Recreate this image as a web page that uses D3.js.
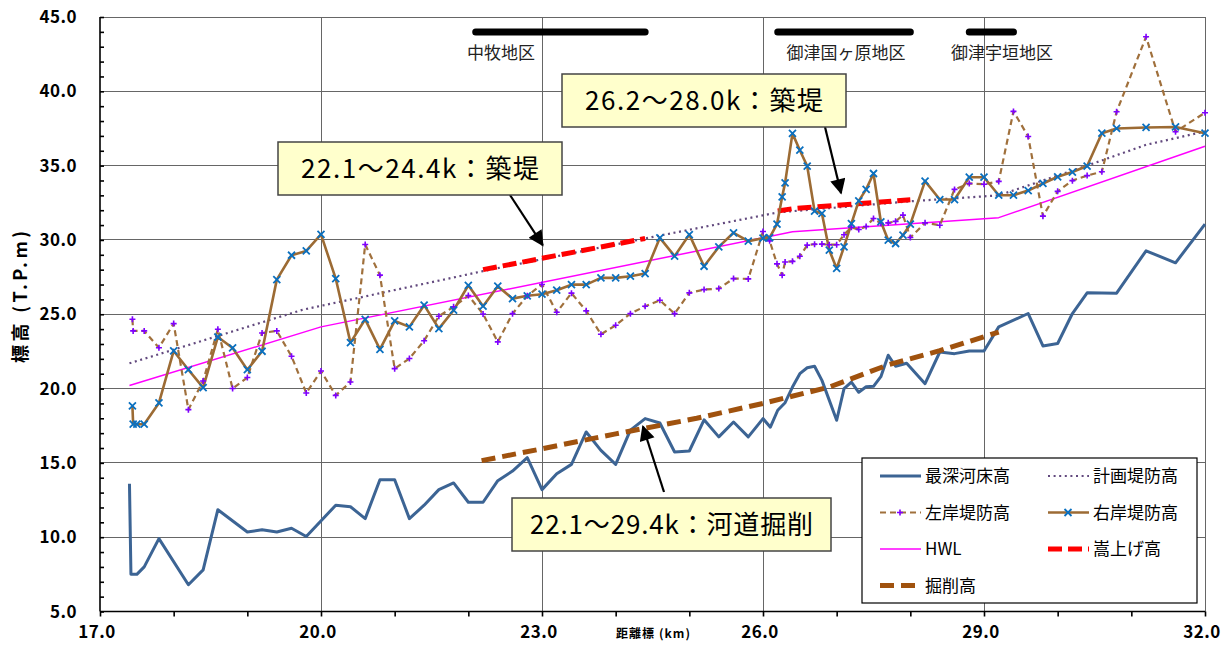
<!DOCTYPE html>
<html>
<head>
<meta charset="utf-8">
<script src="https://cdn.jsdelivr.net/npm/d3@7"></script>
<style>
  body { margin: 0; background: #fff; }
  svg { display: block; font-family: "Noto Sans CJK JP", "Noto Sans", sans-serif; }
</style>
</head>
<body>
<div id="chart"></div>
<script>
// ---- data (km, T.P.m) ----
var riverbed = [[17.4,13.6],[17.42,7.5],[17.5,7.5],[17.6,8.0],[17.8,9.9],[18.2,6.8],[18.4,7.8],[18.6,11.85],
  [19.0,10.35],[19.2,10.5],[19.4,10.35],[19.6,10.6],[19.8,10.05],[20.2,12.15],[20.4,12.05],[20.6,11.25],
  [20.8,13.87],[21.0,13.87],[21.2,11.25],[21.4,12.15],[21.6,13.2],[21.8,13.65],[22.0,12.35],[22.2,12.35],
  [22.4,13.8],[22.6,14.45],[22.8,15.35],[23.0,13.2],[23.2,14.27],[23.4,14.9],[23.6,17.08],[23.8,15.84],
  [24.0,14.9],[24.2,17.2],[24.4,17.98],[24.6,17.68],[24.8,15.73],[25.0,15.8],[25.2,17.9],[25.4,16.75],
  [25.6,17.75],[25.8,16.75],[26.0,17.98],[26.1,17.4],[26.2,18.54],[26.3,19.05],[26.4,20.1],[26.5,21.0],
  [26.6,21.4],[26.7,21.5],[26.8,20.55],[27.0,17.87],[27.1,20.0],[27.2,20.44],[27.3,19.75],[27.4,20.12],
  [27.5,20.15],[27.6,20.8],[27.7,22.24],[27.8,21.5],[27.95,21.7],[28.2,20.33],[28.4,22.46],[28.6,22.35],
  [28.8,22.53],[29.0,22.53],[29.2,24.15],[29.6,25.05],[29.8,22.87],[30.0,23.03],[30.2,25.05],[30.4,26.44],
  [30.8,26.42],[31.2,29.27],[31.6,28.46],[32.0,31.06]];

var planLevee = [[17.4,21.7],[19.75,25.3],[22.2,27.9],[24.4,30.1],[26.2,31.85],[28.0,32.6],[29.2,33.0],
  [30.4,35.0],[31.2,36.4],[32.0,37.3]];

var leftBank = [[17.44,24.66],[17.45,23.88],[17.6,23.88],[17.8,22.75],[18.0,24.37],[18.2,18.58],[18.4,20.51],
  [18.6,23.99],[18.8,20.0],[19.0,20.74],[19.2,23.74],[19.4,23.88],[19.6,22.17],[19.8,19.7],[20.0,21.18],
  [20.2,19.54],[20.4,20.44],[20.6,29.69],[20.8,27.63],[21.0,21.34],[21.2,22.02],[21.4,23.22],[21.6,24.87],
  [21.8,25.5],[22.0,26.26],[22.2,25.02],[22.4,23.14],[22.6,25.04],[22.8,26.24],[23.0,27.0],[23.2,25.13],
  [23.4,26.42],[23.6,25.23],[23.8,23.65],[24.0,24.26],[24.2,25.04],[24.4,25.54],[24.6,25.94],[24.8,25.04],
  [25.0,26.44],[25.2,26.66],[25.4,26.73],[25.6,27.4],[25.8,27.38],[26.0,30.57],[26.09,29.94],[26.19,28.39],
  [26.26,27.63],[26.3,28.52],[26.4,28.56],[26.5,28.9],[26.6,29.65],[26.7,29.71],[26.8,29.72],[26.9,29.68],
  [27.0,29.68],[27.1,30.35],[27.2,30.85],[27.3,30.7],[27.4,30.9],[27.5,31.44],[27.6,31.12],[27.7,31.15],
  [27.8,31.25],[27.9,31.67],[28.0,30.16],[28.2,31.15],[28.4,30.99],[28.6,33.4],[28.8,33.8],[29.0,33.75],
  [29.2,33.94],[29.4,38.65],[29.6,36.96],[29.8,31.6],[30.0,33.27],[30.2,33.99],[30.4,34.33],[30.6,34.59],
  [30.8,38.62],[31.2,43.67],[31.6,37.28],[32.0,38.56]];

var rightBank = [[17.44,18.83],[17.45,17.6],[17.5,17.6],[17.6,17.6],[17.8,19.03],[18.0,22.53],[18.2,21.27],
  [18.4,20.06],[18.6,23.47],[18.8,22.73],[19.0,21.27],[19.2,22.51],[19.4,27.33],[19.6,28.97],[19.8,29.26],
  [20.0,30.37],[20.2,27.4],[20.4,23.09],[20.6,24.66],[20.8,22.64],[21.0,24.55],[21.2,24.15],[21.4,25.61],
  [21.6,24.03],[21.8,25.27],[22.0,26.95],[22.2,25.54],[22.4,26.89],[22.6,26.05],[22.8,26.24],[23.0,26.35],
  [23.2,26.62],[23.4,26.99],[23.6,26.99],[23.8,27.45],[24.0,27.45],[24.2,27.56],[24.4,27.74],[24.6,30.14],
  [24.8,28.91],[25.0,30.36],[25.2,28.23],[25.4,29.53],[25.6,30.48],[25.8,29.92],[26.0,30.12],[26.09,30.16],
  [26.19,31.06],[26.26,32.9],[26.3,33.84],[26.4,37.17],[26.5,36.04],[26.6,34.97],[26.7,31.94],[26.8,31.78],
  [26.9,29.31],[27.0,28.08],[27.1,29.53],[27.2,31.1],[27.3,32.63],[27.4,33.4],[27.5,34.47],[27.6,31.22],
  [27.7,29.98],[27.8,29.76],[27.9,30.32],[28.0,31.06],[28.2,33.96],[28.4,32.72],[28.6,32.72],[28.8,34.22],
  [29.0,34.22],[29.2,33.01],[29.4,33.01],[29.6,33.32],[29.8,33.8],[30.0,34.25],[30.2,34.57],[30.4,34.97],
  [30.6,37.18],[30.8,37.5],[31.2,37.57],[31.6,37.6],[32.0,37.18]];

var hwl = [[17.4,20.2],[20.0,24.15],[26.4,30.55],[29.2,31.5],[32.0,36.3]];

var raiseSegments = [
  [[22.2,28.0],[24.4,30.1]],
  [[26.2,31.95],[26.4,32.1],[28.0,32.7]]
];

var excavation = [[22.18,15.15],[23.0,15.95],[24.0,16.95],[25.1,18.0],[26.0,19.0],[26.9,20.1],
  [27.7,21.6],[28.4,22.55],[29.2,23.8]];

var districts = [
  {name: "中牧地区", from: 22.1, to: 24.4},
  {name: "御津国ヶ原地区", from: 26.2, to: 28.0},
  {name: "御津宇垣地区", from: 28.8, to: 29.4}
];

var callouts = [
  {text: "22.1～24.4k：築堤", tip: [23.01, 29.65]},
  {text: "26.2～28.0k：築堤", tip: [27.06, 33.15]},
  {text: "22.1～29.4k：河道掘削", tip: [24.37, 17.45]}
];

var yMajor = [5, 10, 15, 20, 25, 30, 35, 40, 45];
var xMajor = [17, 20, 23, 26, 29, 32];

// ---- drawing ----
var W = 1231, H = 646;
var svg = d3.select("#chart").append("svg").attr("width", W).attr("height", H);

var x = d3.scaleLinear().domain([17, 32]).range([100, 1205]);
var y = d3.scaleLinear().domain([5, 45]).range([611.5, 17]);

var line = d3.line().x(function(d) { return x(d[0]); }).y(function(d) { return y(d[1]); });

// grid
var grid = svg.append("g").attr("stroke", "#666").attr("stroke-width", 1).attr("shape-rendering", "crispEdges");
grid.selectAll(".gh").data(yMajor.slice(1)).enter().append("line")
  .attr("x1", x(17)).attr("x2", x(32)).attr("y1", function(d) { return y(d); }).attr("y2", function(d) { return y(d); });
grid.selectAll(".gv").data(xMajor.slice(1)).enter().append("line")
  .attr("y1", y(5)).attr("y2", y(45)).attr("x1", function(d) { return x(d); }).attr("x2", function(d) { return x(d); });

// axes
var yAxis = svg.append("g").attr("transform", "translate(" + x(17) + ",0)")
  .call(d3.axisRight(y).tickValues(d3.range(5, 46, 1)).tickSize(4).tickFormat(""));
var xAxis = svg.append("g").attr("transform", "translate(0," + y(5) + ")")
  .call(d3.axisBottom(x).tickValues(d3.range(17, 33, 1)).tickSize(5).tickFormat(""));
[yAxis, xAxis].forEach(function(g) {
  g.selectAll("path,line").attr("stroke", "#000").attr("stroke-width", 1.6);
});
yAxis.select("path").attr("d", "M0," + y(5) + "V" + y(45));
xAxis.select("path").attr("d", "M" + x(17) + ",0H" + x(32));

svg.append("g").selectAll("text").data(yMajor).enter().append("text")
  .attr("x", 77).attr("y", function(d) { return y(d); }).attr("dy", "0.36em")
  .attr("text-anchor", "end").attr("font-size", 17).attr("font-weight", "bold").attr("letter-spacing", 0.5)
  .text(function(d) { return d3.format(".1f")(d); });

svg.append("g").selectAll("text").data(xMajor).enter().append("text")
  .attr("x", function(d) { return x(d) - 3; }).attr("y", 638)
  .attr("text-anchor", "middle").attr("font-size", 17).attr("font-weight", "bold").attr("letter-spacing", 0.5)
  .text(function(d) { return d3.format(".1f")(d); });

svg.append("text").attr("x", 616).attr("y", 638).attr("font-size", 12).attr("font-weight", "bold")
  .attr("textLength", 74).attr("lengthAdjust", "spacing").text("距離標 (km)");

svg.append("text").attr("transform", "translate(27,297) rotate(-90)").attr("text-anchor", "middle")
  .attr("font-size", 18).attr("font-weight", "bold").attr("textLength", 132).attr("lengthAdjust", "spacing")
  .text("標高 (T.P.m)");

// series styles
var styles = {
  riverbed: {stroke: "#3C6494", width: 3, dash: null},
  plan: {stroke: "#62497E", width: 2.2, dash: "2,3.6"},
  left: {stroke: "#A0703C", width: 2.2, dash: "6,4"},
  right: {stroke: "#9C6B34", width: 2.6, dash: null},
  hwl: {stroke: "#FF00FF", width: 1.5, dash: null},
  raise: {stroke: "#FF0000", width: 5, dash: "14,6"},
  excav: {stroke: "#A0520E", width: 5, dash: "14,7"}
};

function drawLine(data, st) {
  svg.append("path").datum(data).attr("d", line).attr("fill", "none")
    .attr("stroke", st.stroke).attr("stroke-width", st.width)
    .attr("stroke-dasharray", st.dash).attr("stroke-linejoin", "round");
}

drawLine(riverbed, styles.riverbed);
drawLine(excavation, styles.excav);
drawLine(hwl, styles.hwl);
drawLine(planLevee, styles.plan);
raiseSegments.forEach(function(s) { drawLine(s, styles.raise); });
drawLine(leftBank, styles.left);
drawLine(rightBank, styles.right);

function plusMark(g, cx, cy) {
  g.append("path").attr("d", "M" + (cx - 3) + "," + cy + "H" + (cx + 3) + "M" + cx + "," + (cy - 3) + "V" + (cy + 3))
    .attr("stroke", "#7F00FF").attr("stroke-width", 1.6);
}
function crossMark(g, cx, cy) {
  g.append("path").attr("d", "M" + (cx - 3.5) + "," + (cy - 3.5) + "L" + (cx + 3.5) + "," + (cy + 3.5) +
      "M" + (cx - 3.5) + "," + (cy + 3.5) + "L" + (cx + 3.5) + "," + (cy - 3.5))
    .attr("stroke", "#0A70C0").attr("stroke-width", 1.8);
}

var marks = svg.append("g");
leftBank.forEach(function(d) { plusMark(marks, x(d[0]), y(d[1])); });
rightBank.forEach(function(d) { crossMark(marks, x(d[0]), y(d[1])); });

// district bars
var labelX = [501, 846, 1002];
districts.forEach(function(d, i) {
  svg.append("line").attr("x1", x(d.from)).attr("x2", x(d.to)).attr("y1", 32).attr("y2", 32)
    .attr("stroke", "#000").attr("stroke-width", 7).attr("stroke-linecap", "round");
  svg.append("text").attr("x", labelX[i]).attr("y", 59).attr("text-anchor", "middle")
    .attr("font-size", 17).attr("fill", "#222").text(d.name);
});

// callouts
var boxes = [
  {x: 278, y: 142, w: 284, h: 53, from: [510, 195], textW: 238},
  {x: 562, y: 74, w: 284, h: 53, from: [825, 127], textW: 238},
  {x: 512, y: 498, w: 319, h: 53, from: [664, 492], textW: 283}
];
svg.append("defs").append("marker").attr("id", "ah").attr("viewBox", "0 0 10 10")
  .attr("refX", 9).attr("refY", 5).attr("markerWidth", 8).attr("markerHeight", 7)
  .attr("markerUnits", "strokeWidth").attr("orient", "auto")
  .append("path").attr("d", "M0,0L10,5L0,10Z").attr("fill", "#000");

callouts.forEach(function(c, i) {
  var b = boxes[i];
  svg.append("line").attr("x1", b.from[0]).attr("y1", b.from[1])
    .attr("x2", x(c.tip[0])).attr("y2", y(c.tip[1]))
    .attr("stroke", "#000").attr("stroke-width", 2.2).attr("marker-end", "url(#ah)");
  svg.append("rect").attr("x", b.x).attr("y", b.y).attr("width", b.w).attr("height", b.h)
    .attr("fill", "#FFFFCC").attr("stroke", "#444").attr("stroke-width", 1.5);
  svg.append("text").attr("x", b.x + b.w / 2).attr("y", b.y + b.h / 2).attr("dy", "0.36em")
    .attr("text-anchor", "middle").attr("font-size", 26).attr("fill", "#000")
    .attr("textLength", b.textW).attr("lengthAdjust", "spacing").text(c.text);
});

// legend
var legendItems = [
  {name: "最深河床高", st: styles.riverbed, mark: null},
  {name: "計画堤防高", st: styles.plan, mark: null},
  {name: "左岸堤防高", st: styles.left, mark: "plus"},
  {name: "右岸堤防高", st: styles.right, mark: "cross"},
  {name: "HWL", st: styles.hwl, mark: null},
  {name: "嵩上げ高", st: styles.raise, mark: null},
  {name: "掘削高", st: styles.excav, mark: null}
];
var lg = svg.append("g");
lg.append("rect").attr("x", 862).attr("y", 458).attr("width", 335).attr("height", 145)
  .attr("fill", "#fff").attr("stroke", "#000").attr("stroke-width", 1.2);
legendItems.forEach(function(d, i) {
  var col = i % 2, row = Math.floor(i / 2);
  var lx = col ? 1048 : 880, ly = 476 + row * 36.5;
  lg.append("line").attr("x1", lx).attr("x2", lx + 41).attr("y1", ly).attr("y2", ly)
    .attr("stroke", d.st.stroke).attr("stroke-width", d.st.width).attr("stroke-dasharray", d.st.dash);
  if (d.mark === "plus") plusMark(lg, lx + 20, ly);
  if (d.mark === "cross") crossMark(lg, lx + 20, ly);
  lg.append("text").attr("x", lx + 45).attr("y", ly).attr("dy", "0.36em")
    .attr("font-size", 17).attr("fill", "#000").text(d.name);
});
</script>
</body>
</html>
